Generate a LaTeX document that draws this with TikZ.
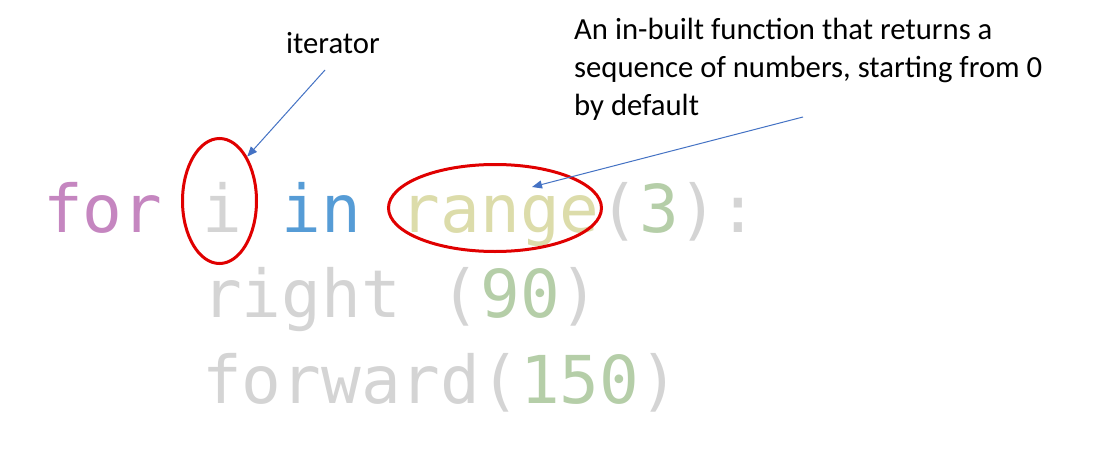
\documentclass[tikz,border=0pt]{standalone}
\usepackage{fontspec}
\setmainfont{Carlito}
\newfontfamily\codefont{DejaVu Sans Mono}
\usepackage{tikz}
\usetikzlibrary{shapes.geometric,arrows.meta}
\usepackage{xcolor}
\definecolor{kwpurple}{HTML}{C586C0}
\definecolor{kwblue}{HTML}{569CD6}
\definecolor{fnyellow}{HTML}{DCDCAA}
\definecolor{numgreen}{HTML}{B5CEA8}
\definecolor{codegray}{HTML}{D4D4D4}
\definecolor{ringred}{HTML}{E00000}
\definecolor{pointerblue}{HTML}{4472C4}

\begin{document}
\begin{tikzpicture}[
    x=1pt, y=-1pt,
    codeline/.style={anchor=base west, inner sep=0pt, text=codegray,
        font=\codefont\fontsize{66}{86}\selectfont},
    note/.style={anchor=base west, inner sep=0pt, align=left,
        font=\fontsize{30.7}{38}\selectfont},
    ring/.style={ellipse, draw=ringred, line width=3pt, inner sep=0pt},
    pointer/.style={color=pointerblue, line width=1pt},
    >={Triangle[length=10pt,width=8pt]}
]
    \path[use as bounding box, fill=white] (0,0) rectangle (1104,466);

    % the loop
    \node[codeline] (line1) at (43,232) {{\color{kwpurple}for} i {\color{kwblue}in} {\color{fnyellow}range}({\color{numgreen}3}):};
    \node[codeline] (line2) at (202,317) {right ({\color{numgreen}90})};
    \node[codeline] (line3) at (202,403) {forward({\color{numgreen}150})};

    % rings
    \node[ring, minimum width=74pt, minimum height=125pt] (iring) at (219.5,201) {};
    \node[ring, minimum width=213pt, minimum height=87pt] (rangering) at (495,208) {};

    % labels (base = last line)
    \node[note] (iterlabel) at (286,53) {iterator};
    \node[note] (rangelabel) at (574,115) {An in-built function that returns a\\
        sequence of numbers, starting from 0\\ by default};

    \coordinate (itertail) at (325,70);
    \coordinate (rangetail) at (803,117);
    \coordinate (rangetip) at (532,187);
    \draw[pointer, ->] (itertail) -- (iring.58);
    \draw[pointer, ->] (rangetail) -- (rangetip);
\end{tikzpicture}
\end{document}
